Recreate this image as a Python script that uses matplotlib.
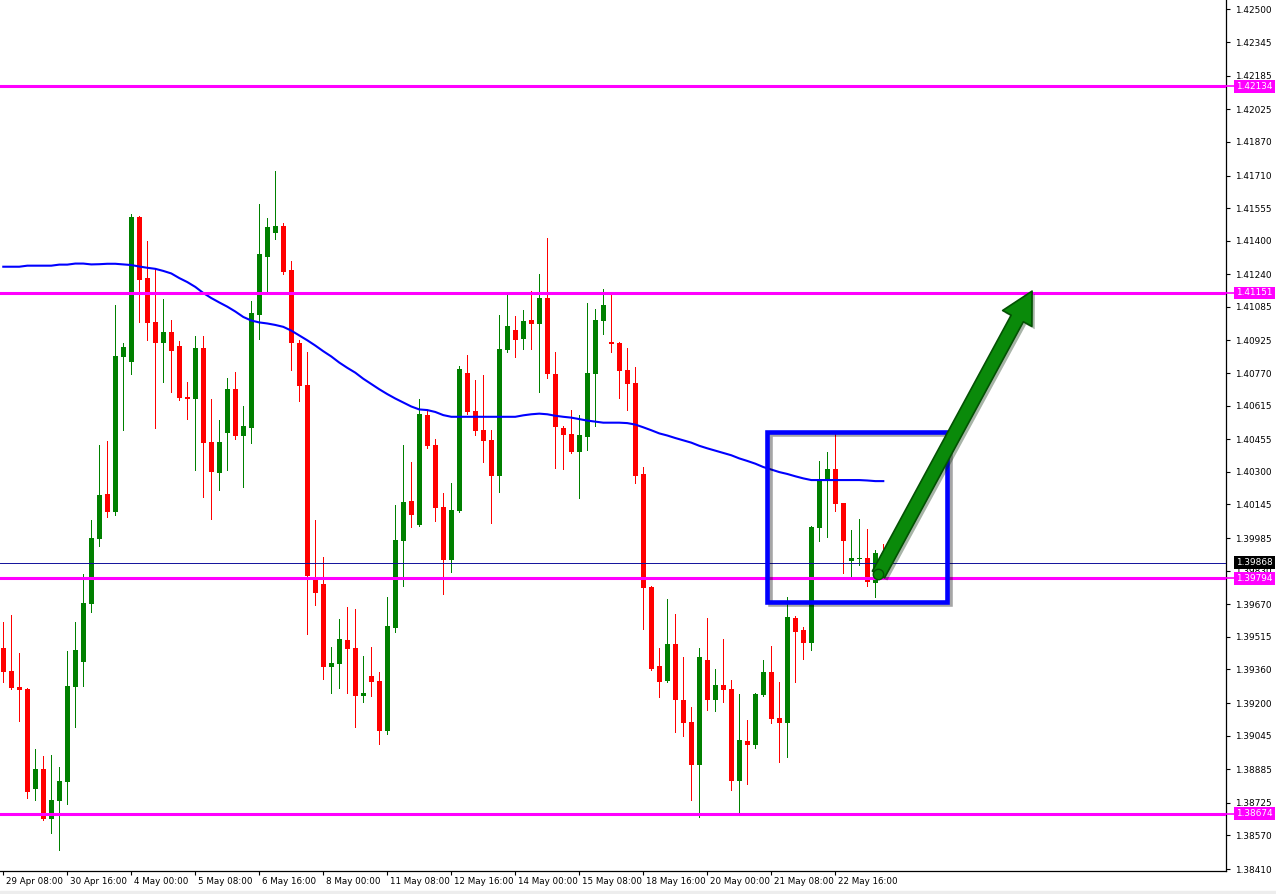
import matplotlib
matplotlib.use('Agg')
import matplotlib.pyplot as plt
import matplotlib.patches as mpatches
import matplotlib.patheffects as pe
from matplotlib.transforms import blended_transform_factory
import numpy as np

# ---------------- data (H4 candles) ----------------
opens = [1.39462, 1.39352, 1.39277, 1.39267, 1.38791, 1.38886, 1.38648, 1.38734, 1.38824, 1.39277,
         1.39395, 1.39671, 1.39980, 1.40195, 1.40109, 1.40847, 1.40822, 1.41513, 1.41222, 1.41012,
         1.40913, 1.40965, 1.40898, 1.40656, 1.40646, 1.40889, 1.40442, 1.40295, 1.40485, 1.40694,
         1.40470, 1.40509, 1.41046, 1.41323, 1.41437, 1.41469, 1.41260, 1.40913, 1.40713, 1.39790,
         1.39766, 1.39372, 1.39386, 1.39500, 1.39462, 1.39233, 1.39328, 1.39305, 1.39067, 1.39557,
         1.39971, 1.40161, 1.40047, 1.40570, 1.40428, 1.40133, 1.39881, 1.40114, 1.40771, 1.40589,
         1.40499, 1.40452, 1.40280, 1.40880, 1.40975, 1.40932, 1.41022, 1.41003, 1.41127, 1.40766,
         1.40509, 1.40480, 1.40394, 1.40466, 1.40766, 1.41017, 1.40917, 1.40913, 1.40785, 1.40723,
         1.40290, 1.39752, 1.39376, 1.39305, 1.39481, 1.39214, 1.39109, 1.38905, 1.39405, 1.39214,
         1.39286, 1.39267, 1.38829, 1.39019, 1.39000, 1.39238, 1.39347, 1.39129, 1.39105, 1.39605,
         1.39547, 1.39486, 1.40033, 1.40261, 1.40313, 1.40152, 1.39876, 1.39886, 1.39890, 1.39771,
         1.39909]
highs = [1.39585, 1.39619, 1.39438, 1.39272, 1.38982, 1.38948, 1.38953, 1.38896, 1.39447, 1.39585,
         1.39814, 1.40071, 1.40428, 1.40447, 1.41094, 1.40913, 1.41527, 1.41518, 1.41398, 1.41265,
         1.41122, 1.41022, 1.40922, 1.40727, 1.40946, 1.40946, 1.40646, 1.40547, 1.40747, 1.40775,
         1.40613, 1.41113, 1.41574, 1.41508, 1.41731, 1.41484, 1.41303, 1.40927, 1.40870, 1.40071,
         1.39895, 1.39467, 1.39600, 1.39657, 1.39647, 1.39423, 1.39467, 1.39347, 1.39705, 1.40142,
         1.40428, 1.40346, 1.40646, 1.40594, 1.40457, 1.40200, 1.40247, 1.40803, 1.40856, 1.40737,
         1.40761, 1.40499, 1.41046, 1.41141, 1.41041, 1.41070, 1.41160, 1.41241, 1.41413, 1.40870,
         1.40516, 1.40594, 1.40570, 1.41104, 1.41075, 1.41170, 1.41146, 1.40917, 1.40889, 1.40799,
         1.40323, 1.39757, 1.39462, 1.39695, 1.39624, 1.39419, 1.39181, 1.39462, 1.39605, 1.39362,
         1.39504, 1.39310, 1.39243, 1.39119, 1.39250, 1.39405, 1.39471, 1.39300, 1.39705, 1.39612,
         1.39562, 1.40042, 1.40351, 1.40394, 1.40485, 1.40154, 1.40023, 1.40076, 1.40028, 1.39928,
         1.39957]
lows = [1.39300, 1.39267, 1.39114, 1.38748, 1.38739, 1.38646, 1.38582, 1.38501, 1.38720, 1.39086,
        1.39281, 1.39633, 1.39947, 1.40086, 1.40095, 1.40499, 1.40766, 1.41012, 1.40927, 1.40509,
        1.40727, 1.40679, 1.40642, 1.40551, 1.40309, 1.40181, 1.40076, 1.40214, 1.40309, 1.40457,
        1.40228, 1.40438, 1.40932, 1.41155, 1.41408, 1.41241, 1.40785, 1.40637, 1.39528, 1.39666,
        1.39314, 1.39248, 1.39272, 1.39248, 1.39086, 1.39204, 1.39233, 1.39005, 1.39053, 1.39537,
        1.39756, 1.40038, 1.40042, 1.40414, 1.40066, 1.39719, 1.39823, 1.40109, 1.40575, 1.40475,
        1.40346, 1.40057, 1.40204, 1.40870, 1.40847, 1.40884, 1.40884, 1.40679, 1.40747, 1.40318,
        1.40313, 1.40390, 1.40176, 1.40404, 1.40518, 1.40956, 1.40870, 1.40651, 1.40594, 1.40247,
        1.39552, 1.39357, 1.39229, 1.39300, 1.39062, 1.39043, 1.38739, 1.38658, 1.39167, 1.39162,
        1.39204, 1.38786, 1.38677, 1.38815, 1.38986, 1.39233, 1.39105, 1.38919, 1.38943, 1.39300,
        1.39410, 1.39452, 1.39971, 1.39990, 1.40114, 1.39819, 1.39800, 1.39857, 1.39756, 1.39705,
        1.39840]
closes = [1.39347, 1.39272, 1.39262, 1.38776, 1.38886, 1.38648, 1.38739, 1.38829, 1.39281, 1.39452,
          1.39676, 1.39985, 1.40190, 1.40109, 1.40851, 1.40894, 1.41513, 1.41213, 1.41008, 1.40913,
          1.40965, 1.40875, 1.40651, 1.40646, 1.40889, 1.40438, 1.40299, 1.40442, 1.40694, 1.40470,
          1.40518, 1.41056, 1.41337, 1.41465, 1.41469, 1.41250, 1.40913, 1.40708, 1.39804, 1.39724,
          1.39372, 1.39391, 1.39504, 1.39457, 1.39233, 1.39248, 1.39300, 1.39067, 1.39566, 1.39976,
          1.40156, 1.40095, 1.40575, 1.40423, 1.40128, 1.39881, 1.40119, 1.40789, 1.40584, 1.40494,
          1.40447, 1.40280, 1.40884, 1.40993, 1.40927, 1.41017, 1.41003, 1.41127, 1.40766, 1.40514,
          1.40475, 1.40394, 1.40475, 1.40771, 1.41022, 1.41094, 1.40908, 1.40780, 1.40718, 1.40280,
          1.39747, 1.39362, 1.39300, 1.39481, 1.39214, 1.39105, 1.38905, 1.39419, 1.39214, 1.39286,
          1.39262, 1.38829, 1.39024, 1.39000, 1.39243, 1.39347, 1.39124, 1.39105, 1.39610, 1.39537,
          1.39486, 1.40038, 1.40266, 1.40313, 1.40147, 1.39971, 1.39890, 1.39892, 1.39776, 1.39914,
          1.39868]
ma_values = [1.41276, 1.41276, 1.41276, 1.41281, 1.41281, 1.41281, 1.41281, 1.41286, 1.41286, 1.41291,
             1.41291, 1.41287, 1.41288, 1.41290, 1.41290, 1.41287, 1.41284, 1.41277, 1.41271, 1.41266,
             1.41256, 1.41244, 1.41222, 1.41203, 1.41180, 1.41151, 1.41127, 1.41106, 1.41086, 1.41063,
             1.41037, 1.41020, 1.41011, 1.41006, 1.40999, 1.40990, 1.40972, 1.40949, 1.40926, 1.40901,
             1.40874, 1.40849, 1.40820, 1.40795, 1.40772, 1.40743, 1.40718, 1.40693, 1.40670, 1.40649,
             1.40630, 1.40611, 1.40597, 1.40594, 1.40585, 1.40570, 1.40562, 1.40562, 1.40562, 1.40562,
             1.40562, 1.40562, 1.40562, 1.40562, 1.40562, 1.40569, 1.40574, 1.40577, 1.40574, 1.40567,
             1.40562, 1.40558, 1.40551, 1.40544, 1.40539, 1.40534, 1.40534, 1.40534, 1.40532, 1.40525,
             1.40512, 1.40498, 1.40483, 1.40473, 1.40461, 1.40450, 1.40439, 1.40424, 1.40412, 1.40401,
             1.40390, 1.40379, 1.40364, 1.40352, 1.40339, 1.40323, 1.40311, 1.40299, 1.40290, 1.40279,
             1.40269, 1.40261, 1.40261, 1.40261, 1.40261, 1.40261, 1.40261, 1.40261, 1.40259, 1.40256,
             1.40256]

date_labels = ["29 Apr 08:00", "30 Apr 16:00", "4 May 00:00", "5 May 08:00", "6 May 16:00",
               "8 May 00:00", "11 May 08:00", "12 May 16:00", "14 May 00:00", "15 May 08:00",
               "18 May 16:00", "20 May 00:00", "21 May 08:00", "22 May 16:00"]
date_label_bars = [0, 8, 16, 24, 32, 40, 48, 56, 64, 72, 80, 88, 96, 104]

levels = [1.42134, 1.41151, 1.39794, 1.38674]
current_price = 1.39868
price_ticks = [1.42500, 1.42345, 1.42185, 1.42025, 1.41870, 1.41710, 1.41555, 1.41400, 1.41240,
               1.41085, 1.40925, 1.40770, 1.40615, 1.40455, 1.40300, 1.40145, 1.39985, 1.39830,
               1.39670, 1.39515, 1.39360, 1.39200, 1.39045, 1.38885, 1.38725, 1.38570, 1.38410]

# annotation anchors (bar index, price)
box_x = (95.5, 118.0)
box_y = (1.39681, 1.40492)
arrow_start = (109.4, 1.39812)
arrow_end = (128.6, 1.41160)

# ---------------- figure ----------------
W, H = 1276, 894
fig = plt.figure(figsize=(W / 100, H / 100), dpi=100)
fig.patch.set_facecolor('white')
ax = fig.add_axes([0, 23 / H, 1226 / W, 871 / H])
ax.set_xlim(-0.41, 152.84)
ax.set_ylim(1.38401, 1.42545)
ax.set_facecolor('white')

GREEN = '#008000'
RED = '#FF0000'
o = np.array(opens); h = np.array(highs); l = np.array(lows); c = np.array(closes)
x = np.arange(len(o))
cols = [GREEN if cc >= oo else RED for oo, cc in zip(o, c)]
bottoms = np.minimum(o, c)
heights = np.maximum(np.abs(c - o), 0.00004)
ax.vlines(x, l, h, colors=cols, linewidth=0.6, zorder=2, antialiased=False)
ax.bar(x, heights, bottom=bottoms, width=0.62, color=cols, linewidth=0, zorder=2.5,
       antialiased=False)

# moving average
ax.plot(x, ma_values, color='#0000FF', lw=1.5, zorder=3)

# horizontal levels
tr_ax_data = blended_transform_factory(ax.transAxes, ax.transData)
for lv in levels:
    ax.axhline(lv, color='#FF00FF', lw=2.2, zorder=4)

# current price line
ax.axhline(current_price, color='#10109A', lw=0.7, zorder=4)

# axes styling
for s in ['top', 'left']:
    ax.spines[s].set_visible(False)
for s in ['right', 'bottom']:
    ax.spines[s].set_color('black')
    ax.spines[s].set_linewidth(0.9)

ax.yaxis.tick_right()
ax.set_yticks(price_ticks)
ax.set_yticklabels([f'{v:.5f}' for v in price_ticks], fontsize=6.4, family='DejaVu Sans')
ax.tick_params(axis='y', direction='out', length=3, width=0.8, pad=3.5, colors='black')
ax.set_xticks(date_label_bars)
ax.set_xticklabels([])
ax.tick_params(axis='x', direction='out', length=3, width=0.8)

tr_data_ax = blended_transform_factory(ax.transData, ax.transAxes)
for b, lab in zip(date_label_bars, date_labels):
    ax.text(b + 0.3, -0.0125, lab, transform=tr_data_ax, fontsize=6.3,
            ha='left', va='center', color='black', clip_on=False)

# price labels on the right axis
label_x = 1.0084
for lv in levels:
    ax.plot([1.0, label_x], [lv, lv], transform=tr_ax_data, color='#FF00FF', lw=1.2,
            clip_on=False, zorder=6)
    ax.text(label_x, lv, f'{lv:.5f}', transform=tr_ax_data, fontsize=6.4, color='white',
            ha='left', va='center', zorder=7, clip_on=False,
            bbox=dict(boxstyle='square,pad=0.22', fc='#FF00FF', ec='none'))
ax.text(label_x, current_price, f'{current_price:.5f}', transform=tr_ax_data, fontsize=6.4,
        color='white', ha='left', va='center', zorder=7, clip_on=False,
        bbox=dict(boxstyle='square,pad=0.22', fc='black', ec='none'))

# blue rectangle annotation
rect = mpatches.Rectangle((box_x[0], box_y[0]), box_x[1] - box_x[0], box_y[1] - box_y[0],
                          fill=False, edgecolor='#0000FF', lw=3.3, zorder=8,
                          joinstyle='miter',
                          path_effects=[pe.SimpleLineShadow(offset=(1.8, -1.8), shadow_color='black',
                                                            alpha=0.35), pe.Normal()])
ax.add_patch(rect)

# green arrow
arrow = mpatches.FancyArrowPatch(posA=arrow_start, posB=arrow_end,
                                 arrowstyle='simple,head_width=3.0,head_length=2.8,tail_width=1.25',
                                 mutation_scale=8, fc='#0A8A0A', ec='#035203', lw=1.2,
                                 joinstyle='round', capstyle='round',
                                 shrinkA=0, shrinkB=0, zorder=9,
                                 path_effects=[pe.SimplePatchShadow(offset=(2, -2), alpha=0.35),
                                               pe.Normal()])
ax.add_patch(arrow)
# rounded tail end of the arrow
ax.plot([arrow_start[0]], [arrow_start[1]], marker='o', markersize=7.5, color='#0A8A0A',
        markeredgecolor='#035203', markeredgewidth=1.0, zorder=9.5)

# bottom status strip
fig.patches.append(mpatches.Rectangle((0, 0), 1, 3 / H, transform=fig.transFigure,
                                      color='#EDEDED', zorder=0))

fig.savefig('out.png', dpi=100, facecolor='white')
